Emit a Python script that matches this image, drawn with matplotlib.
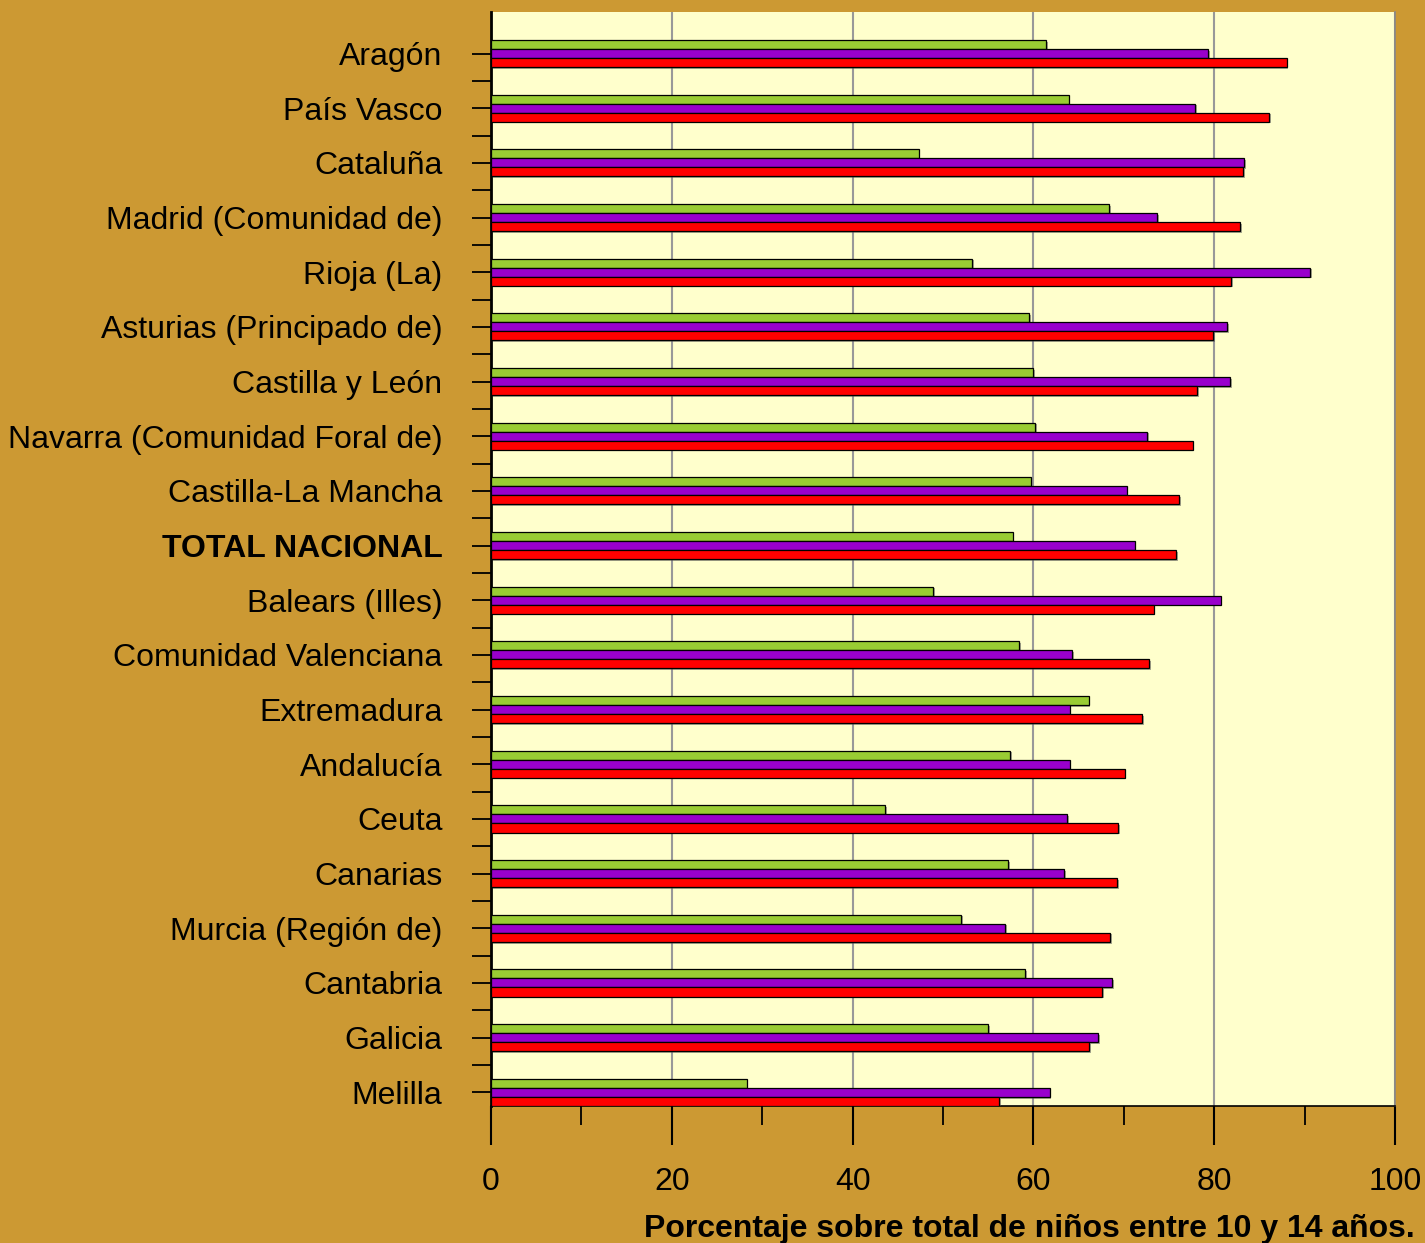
import matplotlib
matplotlib.use('Agg')
import matplotlib.pyplot as plt
import matplotlib.patheffects as pe
import numpy as np

regiones = ['Aragón', 'País Vasco', 'Cataluña', 'Madrid (Comunidad de)', 'Rioja (La)',
            'Asturias (Principado de)', 'Castilla y León', 'Navarra (Comunidad Foral de)',
            'Castilla-La Mancha', 'TOTAL NACIONAL', 'Balears (Illes)', 'Comunidad Valenciana',
            'Extremadura', 'Andalucía', 'Ceuta', 'Canarias', 'Murcia (Región de)',
            'Cantabria', 'Galicia', 'Melilla']

verde = [61.4, 63.9, 47.3, 68.4, 53.2, 59.5, 60.0, 60.2, 59.7, 57.7,
         48.9, 58.4, 66.1, 57.4, 43.6, 57.2, 52.0, 59.1, 55.0, 28.3]
morado = [79.3, 77.9, 83.3, 73.7, 90.6, 81.4, 81.8, 72.6, 70.3, 71.2,
          80.7, 64.3, 64.0, 64.0, 63.7, 63.4, 56.9, 68.7, 67.2, 61.8]
rojo = [88.0, 86.1, 83.2, 82.9, 81.9, 79.9, 78.1, 77.6, 76.1, 75.8,
        73.3, 72.8, 72.0, 70.1, 69.4, 69.3, 68.5, 67.6, 66.2, 56.2]

fondo = '#CC9933'
fig = plt.figure(figsize=(14.25, 12.43), dpi=100, facecolor=fondo)
ax = fig.add_axes([491/1425, 1 - 1106/1243, (1395-491)/1425, (1106-12)/1243])
ax.set_facecolor('#FFFFCC')

y = np.arange(len(regiones))
h = 0.165
sombra = [pe.SimplePatchShadow(offset=(1.2, -1.2), shadow_rgbFace='#555555', alpha=0.5), pe.Normal()]
for vals, col, off in [(verde, '#99CC33', -h), (morado, '#9900CC', 0), (rojo, '#FF0000', h)]:
    bars = ax.barh(y + off, vals, height=h, color=col, edgecolor='black', linewidth=0.9, zorder=3)
    for b in bars:
        b.set_path_effects(sombra)

ax.set_xlim(0, 100)
ax.set_ylim(19.25, -0.76)
ax.set_xticks(np.arange(0, 101, 20))
ax.set_xticks(np.arange(10, 100, 20), minor=True)
ax.set_yticks(y)
ax.set_yticks(y[:-1] + 0.5, minor=True)
ax.set_yticklabels(regiones, fontsize=23, family='Liberation Sans')
for lab in ax.get_yticklabels():
    if lab.get_text() == 'TOTAL NACIONAL':
        lab.set_fontweight('bold')
ax.tick_params(axis='y', which='both', length=14, width=1.3, pad=21)
ax.tick_params(axis='x', which='major', length=28, width=1.5, pad=16, labelsize=23)
ax.tick_params(axis='x', which='minor', length=14, width=1.3)
for lab in ax.get_xticklabels():
    lab.set_family('Liberation Sans')

ax.grid(axis='x', which='major', color='#999999', linewidth=1.5, zorder=0)
ax.set_axisbelow(True)
ax.spines['top'].set_visible(False)
ax.spines['left'].set_linewidth(2)
ax.spines['bottom'].set_linewidth(1.2)
ax.spines['right'].set_color('#888888')
ax.spines['right'].set_linewidth(1.2)

fig.text(1415/1425, 1 - 1237/1243, 'Porcentaje sobre total de niños entre 10 y 14 años.',
         ha='right', va='baseline', fontsize=23, fontweight='bold', family='Liberation Sans')

fig.savefig('out.png', dpi=100, facecolor=fondo)
